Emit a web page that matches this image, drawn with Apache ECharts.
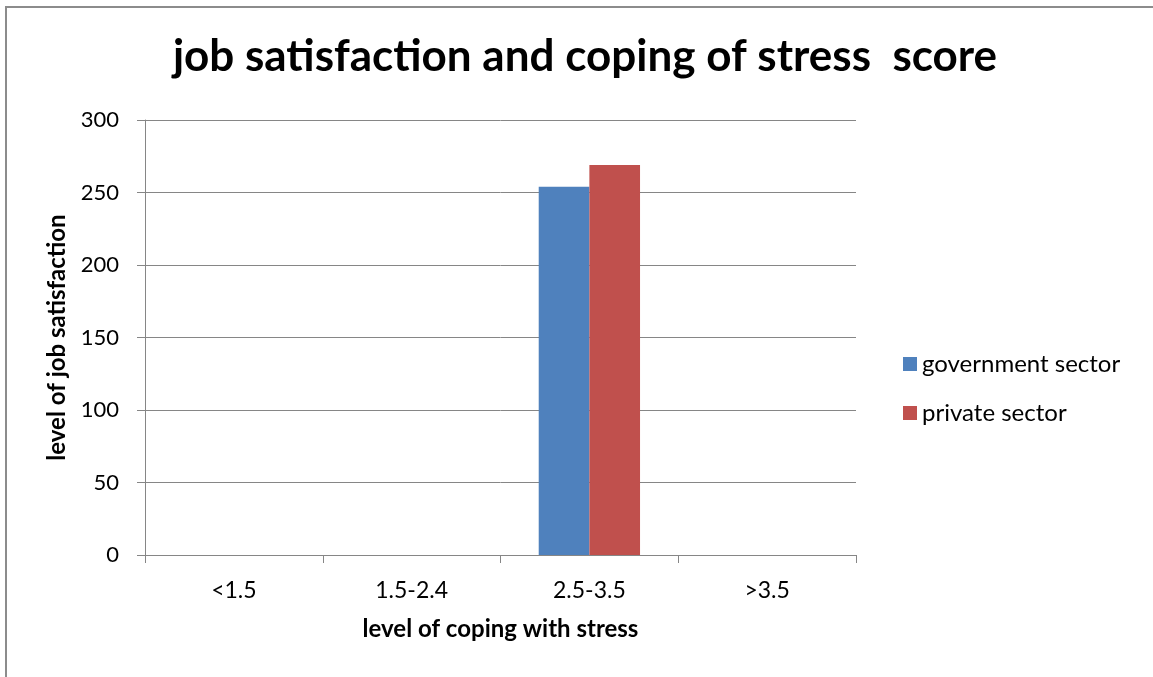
<!DOCTYPE html>
<html>
<head>
<meta charset="utf-8">
<script src="https://cdn.jsdelivr.net/npm/echarts@6/dist/echarts.min.js"></script>
<style>
  html, body { margin: 0; padding: 0; background: #ffffff; }
  #chart { width: 1153px; height: 677px; }
</style>
</head>
<body>
<div id="chart"></div>
<script>
// Coping-with-stress bands on the x axis
const categories = ['<1.5', '1.5-2.4', '2.5-3.5', '>3.5'];
// Job satisfaction counts per band
const governmentSector = [0, 0, 254, 0];
const privateSector = [0, 0, 269, 0];
// Value axis ticks
const yTicks = [0, 50, 100, 150, 200, 250, 300];

const FONT = 'Lato, "Open Sans", sans-serif';
const AXIS_COLOR = '#868686';

const chart = echarts.init(document.getElementById('chart'), null, { renderer: 'canvas' });

chart.setOption({
  backgroundColor: '#ffffff',
  animation: false,
  title: {
    text: 'job satisfaction and coping of stress  score',
    left: 580,
    top: 30,
    textAlign: 'center',
    textStyle: { fontFamily: FONT, fontWeight: 'bold', fontSize: 44, color: '#000000' }
  },
  graphic: [{
    type: 'rect',
    shape: { x: 6, y: 7, width: 1300, height: 800 },
    style: { fill: 'none', stroke: '#8c8c8c', lineWidth: 2 },
    silent: true
  }],
  legend: {
    orient: 'vertical',
    left: 898,
    top: 347,
    itemWidth: 14,
    itemHeight: 14,
    itemGap: 25,
    icon: 'rect',
    textStyle: { fontFamily: FONT, fontSize: 24, color: '#000000' },
    data: ['government sector', 'private sector']
  },
  grid: { left: 145, right: 297, top: 120, bottom: 122 },
  xAxis: {
    type: 'category',
    data: categories,
    name: 'level of coping with stress',
    nameLocation: 'middle',
    nameGap: 62,
    nameTextStyle: { fontFamily: FONT, fontWeight: 'bold', fontSize: 24, color: '#000000' },
    axisLine: { lineStyle: { color: AXIS_COLOR, width: 1 } },
    axisTick: { show: true, length: 8, lineStyle: { color: AXIS_COLOR } },
    axisLabel: { fontFamily: FONT, fontSize: 23, color: '#000000', margin: 24 },
    splitLine: { show: false }
  },
  yAxis: {
    type: 'value',
    min: yTicks[0],
    max: yTicks[yTicks.length - 1],
    interval: yTicks[1] - yTicks[0],
    name: 'level of job satisfaction',
    nameLocation: 'middle',
    nameGap: 76,
    nameTextStyle: { fontFamily: FONT, fontWeight: 'bold', fontSize: 24, color: '#000000' },
    axisLine: { show: true, lineStyle: { color: AXIS_COLOR, width: 1 } },
    axisTick: { show: true, length: 8, lineStyle: { color: AXIS_COLOR } },
    axisLabel: { fontFamily: FONT, fontSize: 22, color: '#000000', margin: 26 },
    splitLine: { show: true, lineStyle: { color: AXIS_COLOR, width: 1 } }
  },
  series: [
    {
      name: 'government sector',
      type: 'bar',
      data: governmentSector,
      itemStyle: { color: '#4f81bd' },
      barGap: '0%',
      barCategoryGap: '43%'
    },
    {
      name: 'private sector',
      type: 'bar',
      data: privateSector,
      itemStyle: { color: '#c0504d' },
      barGap: '0%',
      barCategoryGap: '43%'
    }
  ]
});
</script>
</body>
</html>
